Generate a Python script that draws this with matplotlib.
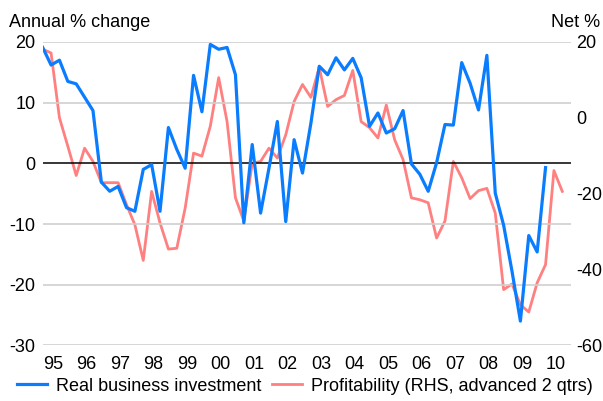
import numpy as np
import matplotlib
matplotlib.use("Agg")
import matplotlib.pyplot as plt
from matplotlib.lines import Line2D

plt.rcParams['font.family'] = ['Liberation Sans', 'DejaVu Sans']
plt.rcParams['axes.unicode_minus'] = False

# quarterly, starting 1995 Q1
investment = [19.1, 16.2, 17.0, 13.5, 13.1, 10.9, 8.7, -3.1, -4.6, -3.8,
              -7.3, -7.9, -1.0, -0.2, -7.9, 5.9, 2.3, -0.8, 14.5, 8.5,
              19.6, 18.8, 19.1, 14.6, -9.8, 3.1, -8.2, -0.8, 6.9, -9.6,
              3.9, -1.6, 6.6, 16.0, 14.6, 17.4, 15.4, 17.3, 14.1, 6.1,
              8.3, 5.0, 5.7, 8.7, -0.1, -1.8, -4.6, 0.1, 6.4, 6.3,
              16.6, 13.2, 8.8, 17.8, -4.9, -10.2, -17.8, -26.0, -11.9, -14.6,
              -0.7]
# net %, right-hand scale, advanced 2 quarters
profitability = [18.1, 17.1, 0.0, -7.5, -15.2, -8.0, -11.5, -17.1, -17.1, -17.1,
                 -22.9, -28.2, -37.6, -19.4, -27.7, -34.6, -34.4, -23.8, -9.3, -10.1,
                 -2.2, 10.6, -1.0, -21.1, -27.2, -12.0, -11.5, -8.0, -10.6, -4.5,
                 4.3, 8.8, 5.4, 13.3, 3.0, 4.8, 5.9, 12.5, -1.0, -2.6,
                 -5.3, 3.4, -5.8, -11.0, -21.1, -21.6, -22.4, -31.7, -27.2, -11.5,
                 -15.8, -21.3, -19.2, -18.6, -25.1, -45.3, -43.8, -49.3, -51.2, -43.5,
                 -38.7, -13.9, -19.4]
year_labels = ['95', '96', '97', '98', '99', '00', '01', '02', '03', '04',
               '05', '06', '07', '08', '09', '10']
left_ticks = [-30, -20, -10, 0, 10, 20]
right_ticks = [-60, -40, -20, 0, 20]

blue = '#0A7DFF'
red = '#FF8080'

fig = plt.figure(figsize=(6.03, 4.01), dpi=100)
ax = fig.add_axes([0.0708, 0.1387, 0.8756, 0.7566])
ax2 = ax.twinx()

for v in left_ticks:
    if v == 0:
        ax.axhline(v, color='black', lw=1.1, zorder=3)
    else:
        ax.axhline(v, color='#CFCFCF', lw=1.2, zorder=0)

ax.plot(np.arange(len(investment)), investment, color=blue, lw=2.3, zorder=5)
ax2.plot(np.arange(len(profitability)), profitability, color=red, lw=2.0)
ax.set_zorder(ax2.get_zorder() + 1)
ax.patch.set_visible(False)

ax.set_xlim(0, 63)
ax.set_ylim(-30, 20)
ax2.set_ylim(-60, 20)
ax.set_yticks(left_ticks)
ax2.set_yticks(right_ticks)
ax.set_xticks([1.2 + 4 * i for i in range(len(year_labels))])
ax.set_xticklabels(year_labels)

for a in (ax, ax2):
    for s in a.spines.values():
        s.set_visible(False)
    a.tick_params(length=0, labelsize=13)
ax.tick_params(axis='y', pad=5)
ax2.tick_params(axis='y', pad=4)
ax.tick_params(axis='x', pad=8)

fig.text(0.015, 0.933, 'Annual % change', fontsize=13, ha='left', va='baseline')
fig.text(0.995, 0.933, 'Net %', fontsize=13, ha='right', va='baseline')

handles = [Line2D([], [], color=blue, lw=2.3), Line2D([], [], color=red, lw=2.0)]
fig.legend(handles, ['Real business investment', 'Profitability (RHS, advanced 2 qtrs)'],
           loc='center', bbox_to_anchor=(0.505, 0.037), ncol=2, frameon=False,
           fontsize=13, handlelength=1.7, handletextpad=0.45, columnspacing=0.6,
           borderaxespad=0, borderpad=0)

fig.savefig('out.png', dpi=100)
